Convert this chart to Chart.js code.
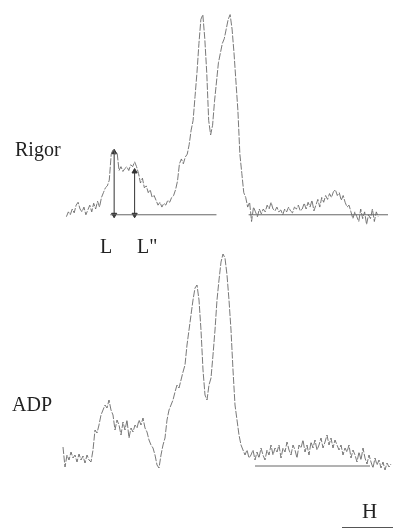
<!DOCTYPE html>
<html>
<head>
<meta charset="utf-8">
<script src="https://cdn.jsdelivr.net/npm/chart.js@4"></script>
<style>
  html, body { margin: 0; padding: 0; background: #fff; }
  #wrap { position: relative; width: 393px; height: 530px; overflow: hidden; }
  canvas { position: absolute; left: 0; }
  .lbl { position: absolute; font-family: "Liberation Serif", "DejaVu Serif", serif; font-size: 20px; line-height: 1; color: #222; white-space: nowrap; }
  #bar { position: absolute; left: 342px; top: 527px; width: 51px; height: 0; border-top: 1px solid #555; }
</style>
</head>
<body>
<div id="wrap">
  <canvas id="rigorChart" width="393" height="265" style="top:0"></canvas>
  <canvas id="adpChart" width="393" height="290" style="top:240px"></canvas>
  <div class="lbl" style="left:15px; top:139px">Rigor</div>
  <div class="lbl" style="left:12px; top:394px">ADP</div>
  <div class="lbl" style="left:100px; top:236px">L</div>
  <div class="lbl" style="left:137px; top:236px">L"</div>
  <div class="lbl" style="left:362px; top:501px; font-size:21px">H</div>
  <div id="bar"></div>
</div>
<script>
// sampling of both profiles (position units)
const rigorStart = 3;
const adpStart = 3;
const step = 2;

// rigor profile, intensity above baseline
const rigorValues = [
  -2, 3, 0, 6, 2, 10, 13, 6, 3, 8, 0, 5, 10, 3, 12, 6, 14, 8, 18, 23,
  28, 30, 36, 63, 68, 63, 65, 46, 50, 45, 48, 50, 46, 52, 50, 55, 50, 43, 33, 38,
  28, 30, 23, 26, 18, 20, 15, 10, 13, 8, 12, 10, 15, 13, 18, 20, 26, 35, 53, 58,
  53, 60, 63, 73, 88, 98, 123, 148, 178, 203, 208, 183, 148, 98, 83, 93, 118, 138, 158, 168,
  178, 183, 193, 203, 208, 193, 168, 138, 108, 63, 43, 23, 18, 8, 13, -7, 8, 3, -2, 6,
  1, 6, 3, 10, 6, 13, 6, 4, 8, 3, 5, 0, 6, 3, 8, 4, 2, 8, 6, 10,
  4, 6, 12, 6, 13, 8, 15, 4, 10, 16, 8, 18, 13, 20, 16, 22, 18, 24, 26, 20,
  23, 15, 20, 13, 8, 10, 3, -4, 3, -2, -7, 6, -4, 3, -10, 0, -4, 6, -7, 3,
  -2
];

// ADP profile, intensity above baseline
const adpValues = [
  19, -1, 11, 6, 14, 8, 11, 4, 12, 6, 10, 3, 11, 6, 4, 16, 36, 33, 41, 51,
  56, 61, 58, 66, 56, 51, 36, 46, 41, 31, 44, 36, 46, 28, 38, 34, 41, 38, 46, 41,
  48, 38, 34, 26, 21, 18, 11, 1, -2, 11, 21, 28, 46, 56, 61, 66, 74, 81, 78, 86,
  94, 101, 121, 136, 151, 166, 178, 181, 166, 136, 96, 71, 66, 81, 88, 111, 136, 166, 186, 204,
  212, 208, 191, 166, 136, 96, 61, 46, 31, 21, 16, 11, 16, 8, 11, 16, 6, 14, 8, 18,
  11, 6, 16, 11, 21, 11, 18, 14, 21, 8, 18, 14, 24, 16, 11, 21, 16, 8, 21, 18,
  26, 14, 21, 11, 24, 18, 26, 16, 21, 28, 18, 24, 31, 21, 28, 18, 26, 21, 16, 21,
  11, 18, 14, 21, 8, 16, 11, 4, 14, 6, 18, 8, 2, 11, 4, -2, 8, 1, 6, -2,
  4, -4, 3, -1, 2
];

// baseline segments [from, to]
const rigorBaseline = [[48, 157], [190, 333]];
const adpBaseline = [[195, 310]];

// measured heights L and L" (position, height)
const rigorMarks = [[52, 65], [73, 45]];

function toPoints(start, values) {
  return values.map((v, i) => ({ x: start + i * step, y: v }));
}

function segments(list) {
  const pts = [];
  list.forEach(function (s, i) {
    if (i > 0) pts.push({ x: s[0] - 1, y: null });
    pts.push({ x: s[0], y: 0 }, { x: s[1], y: 0 });
  });
  return pts;
}

function traceSet(data) {
  return {
    data: data,
    borderColor: '#6a6a6a',
    borderWidth: 0.9,
    borderDash: [7, 1.5],
    pointRadius: 0,
    tension: 0,
    fill: false
  };
}

function baseSet(data) {
  return {
    data: data,
    borderColor: '#666',
    borderWidth: 1,
    pointRadius: 0,
    spanGaps: false,
    fill: false
  };
}

function arrowSet(mark) {
  return {
    data: [{ x: mark[0], y: 0 }, { x: mark[0], y: mark[1] }],
    borderColor: '#333',
    borderWidth: 1,
    pointStyle: 'triangle',
    pointRadius: 3,
    pointRotation: [180, 0],
    pointBackgroundColor: '#333',
    pointBorderColor: '#333',
    fill: false
  };
}

function opts(yMin, yMax) {
  return {
    responsive: false,
    animation: false,
    events: [],
    layout: { padding: 0 },
    plugins: { legend: { display: false }, tooltip: { enabled: false } },
    scales: {
      x: { type: 'linear', min: -60, max: 333, display: false },
      y: { type: 'linear', min: yMin, max: yMax, display: false }
    }
  };
}

new Chart(document.getElementById('rigorChart'), {
  type: 'line',
  data: {
    datasets: [
      baseSet(segments(rigorBaseline)),
      traceSet(toPoints(rigorStart, rigorValues))
    ].concat(rigorMarks.map(arrowSet))
  },
  options: opts(-47, 218)
});

new Chart(document.getElementById('adpChart'), {
  type: 'line',
  data: {
    datasets: [
      baseSet(segments(adpBaseline)),
      traceSet(toPoints(adpStart, adpValues))
    ]
  },
  options: opts(-64, 226)
});
</script>
</body>
</html>
